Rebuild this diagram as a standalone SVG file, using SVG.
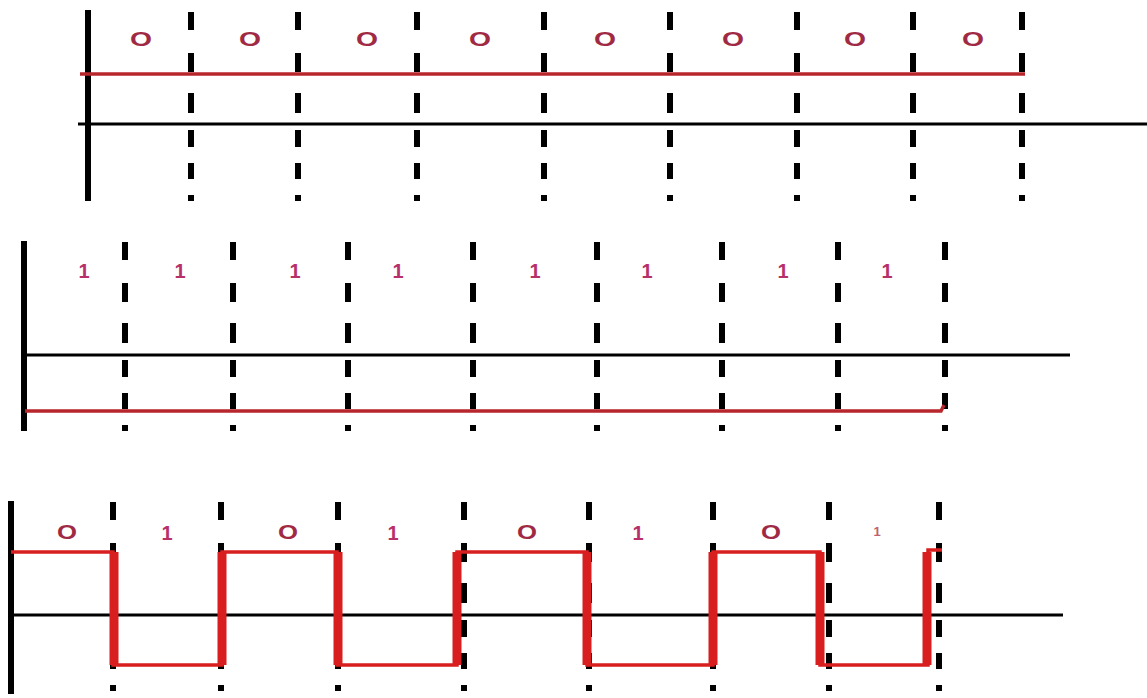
<svg xmlns="http://www.w3.org/2000/svg" width="1147" height="698" viewBox="0 0 1147 698">
  <style>
    .axis { stroke: #000; stroke-width: 3; fill: none; }
    .bar { stroke: #000; stroke-width: 6; fill: none; }
    .lvl { stroke: #b8262c; stroke-width: 3.5; fill: none; }
    .wave { stroke: #d81e1e; stroke-width: 3.5; fill: none; }
    .edge { stroke: #d81e1e; stroke-width: 9; fill: none; }
    .zero { font-family: "Liberation Sans", Arial, sans-serif; font-size: 21px; font-weight: bold; fill: #a02a44; text-anchor: middle; }
    .one { font-family: "Liberation Sans", Arial, sans-serif; font-size: 20px; font-weight: bold; fill: #b8306a; text-anchor: middle; }
  </style>
  <defs>
    <path id="dash" d="M0 0v18 M0 41v19 M0 81v20 M0 118v17 M0 151v16 M0 183v6" stroke="#000" stroke-width="6" fill="none"/>
  </defs>
  <rect width="1147" height="698" fill="#fff"/>

  <g id="panel-top">
    <g id="top-grid">
      <use href="#dash" x="191" y="12"/>
      <use href="#dash" x="298" y="12"/>
      <use href="#dash" x="417" y="12"/>
      <use href="#dash" x="544" y="12"/>
      <use href="#dash" x="670" y="12"/>
      <use href="#dash" x="797" y="12"/>
      <use href="#dash" x="913" y="12"/>
      <use href="#dash" x="1022" y="12"/>
    </g>
    <line class="bar" x1="88" y1="10" x2="88" y2="201"/>
    <line class="axis" x1="78" y1="124" x2="1147" y2="124"/>
    <line class="lvl" x1="80" y1="74" x2="1025" y2="74"/>
    <g id="top-labels">
      <text class="zero" x="141" y="46" textLength="22" lengthAdjust="spacingAndGlyphs">O</text>
      <text class="zero" x="250" y="46" textLength="22" lengthAdjust="spacingAndGlyphs">O</text>
      <text class="zero" x="367" y="46" textLength="22" lengthAdjust="spacingAndGlyphs">O</text>
      <text class="zero" x="480" y="46" textLength="22" lengthAdjust="spacingAndGlyphs">O</text>
      <text class="zero" x="605" y="46" textLength="22" lengthAdjust="spacingAndGlyphs">O</text>
      <text class="zero" x="733" y="46" textLength="22" lengthAdjust="spacingAndGlyphs">O</text>
      <text class="zero" x="855" y="46" textLength="22" lengthAdjust="spacingAndGlyphs">O</text>
      <text class="zero" x="973" y="46" textLength="22" lengthAdjust="spacingAndGlyphs">O</text>
    </g>
  </g>

  <g id="panel-middle">
    <g id="mid-grid">
      <use href="#dash" x="125" y="242"/>
      <use href="#dash" x="233" y="242"/>
      <use href="#dash" x="348" y="242"/>
      <use href="#dash" x="473" y="242"/>
      <use href="#dash" x="597" y="242"/>
      <use href="#dash" x="722" y="242"/>
      <use href="#dash" x="838" y="242"/>
      <use href="#dash" x="945" y="242"/>
    </g>
    <line class="bar" x1="24" y1="241" x2="24" y2="431"/>
    <line class="axis" x1="24" y1="355" x2="1070" y2="355"/>
    <path class="lvl" d="M25 411H941L944 405"/>
    <g id="mid-labels">
      <text class="one" x="84" y="278">1</text>
      <text class="one" x="180" y="278">1</text>
      <text class="one" x="295" y="278">1</text>
      <text class="one" x="398" y="278">1</text>
      <text class="one" x="535" y="278">1</text>
      <text class="one" x="647" y="278">1</text>
      <text class="one" x="783" y="278">1</text>
      <text class="one" x="887" y="278">1</text>
    </g>
  </g>

  <g id="panel-bottom">
    <g id="bot-grid">
      <use href="#dash" x="113" y="502"/>
      <use href="#dash" x="221" y="502"/>
      <use href="#dash" x="338" y="502"/>
      <use href="#dash" x="464" y="502"/>
      <use href="#dash" x="589" y="502"/>
      <use href="#dash" x="713" y="502"/>
      <use href="#dash" x="829" y="502"/>
      <use href="#dash" x="939" y="502"/>
    </g>
    <line class="bar" x1="11" y1="501" x2="11" y2="694"/>
    <line class="axis" x1="11" y1="615" x2="1063" y2="615"/>
    <path class="wave" d="M11 552H113V665H222V552H337V665H457V552H587V665H713V552H820V665H928V550H942"/>
    <g id="bot-edges">
      <line class="edge" x1="114" y1="552" x2="114" y2="665"/>
      <line class="edge" x1="222" y1="552" x2="222" y2="665"/>
      <line class="edge" x1="338" y1="552" x2="338" y2="665"/>
      <line class="edge" x1="457" y1="552" x2="457" y2="665"/>
      <line class="edge" x1="587" y1="552" x2="587" y2="665"/>
      <line class="edge" x1="713" y1="552" x2="713" y2="665"/>
      <line class="edge" x1="820" y1="552" x2="820" y2="665"/>
      <line class="edge" x1="927" y1="552" x2="927" y2="665"/>
    </g>
    <g id="bot-labels">
      <text class="zero" x="67" y="539" textLength="20" lengthAdjust="spacingAndGlyphs">O</text>
      <text class="one" x="167" y="540">1</text>
      <text class="zero" x="288" y="539" textLength="20" lengthAdjust="spacingAndGlyphs">O</text>
      <text class="one" x="393" y="540">1</text>
      <text class="zero" x="527" y="539" textLength="20" lengthAdjust="spacingAndGlyphs">O</text>
      <text class="one" x="638" y="540">1</text>
      <text class="zero" x="771" y="539" textLength="20" lengthAdjust="spacingAndGlyphs">O</text>
      <text class="one" x="877" y="536" style="font-size:13px;fill:#c06070">1</text>
    </g>
  </g>
</svg>
